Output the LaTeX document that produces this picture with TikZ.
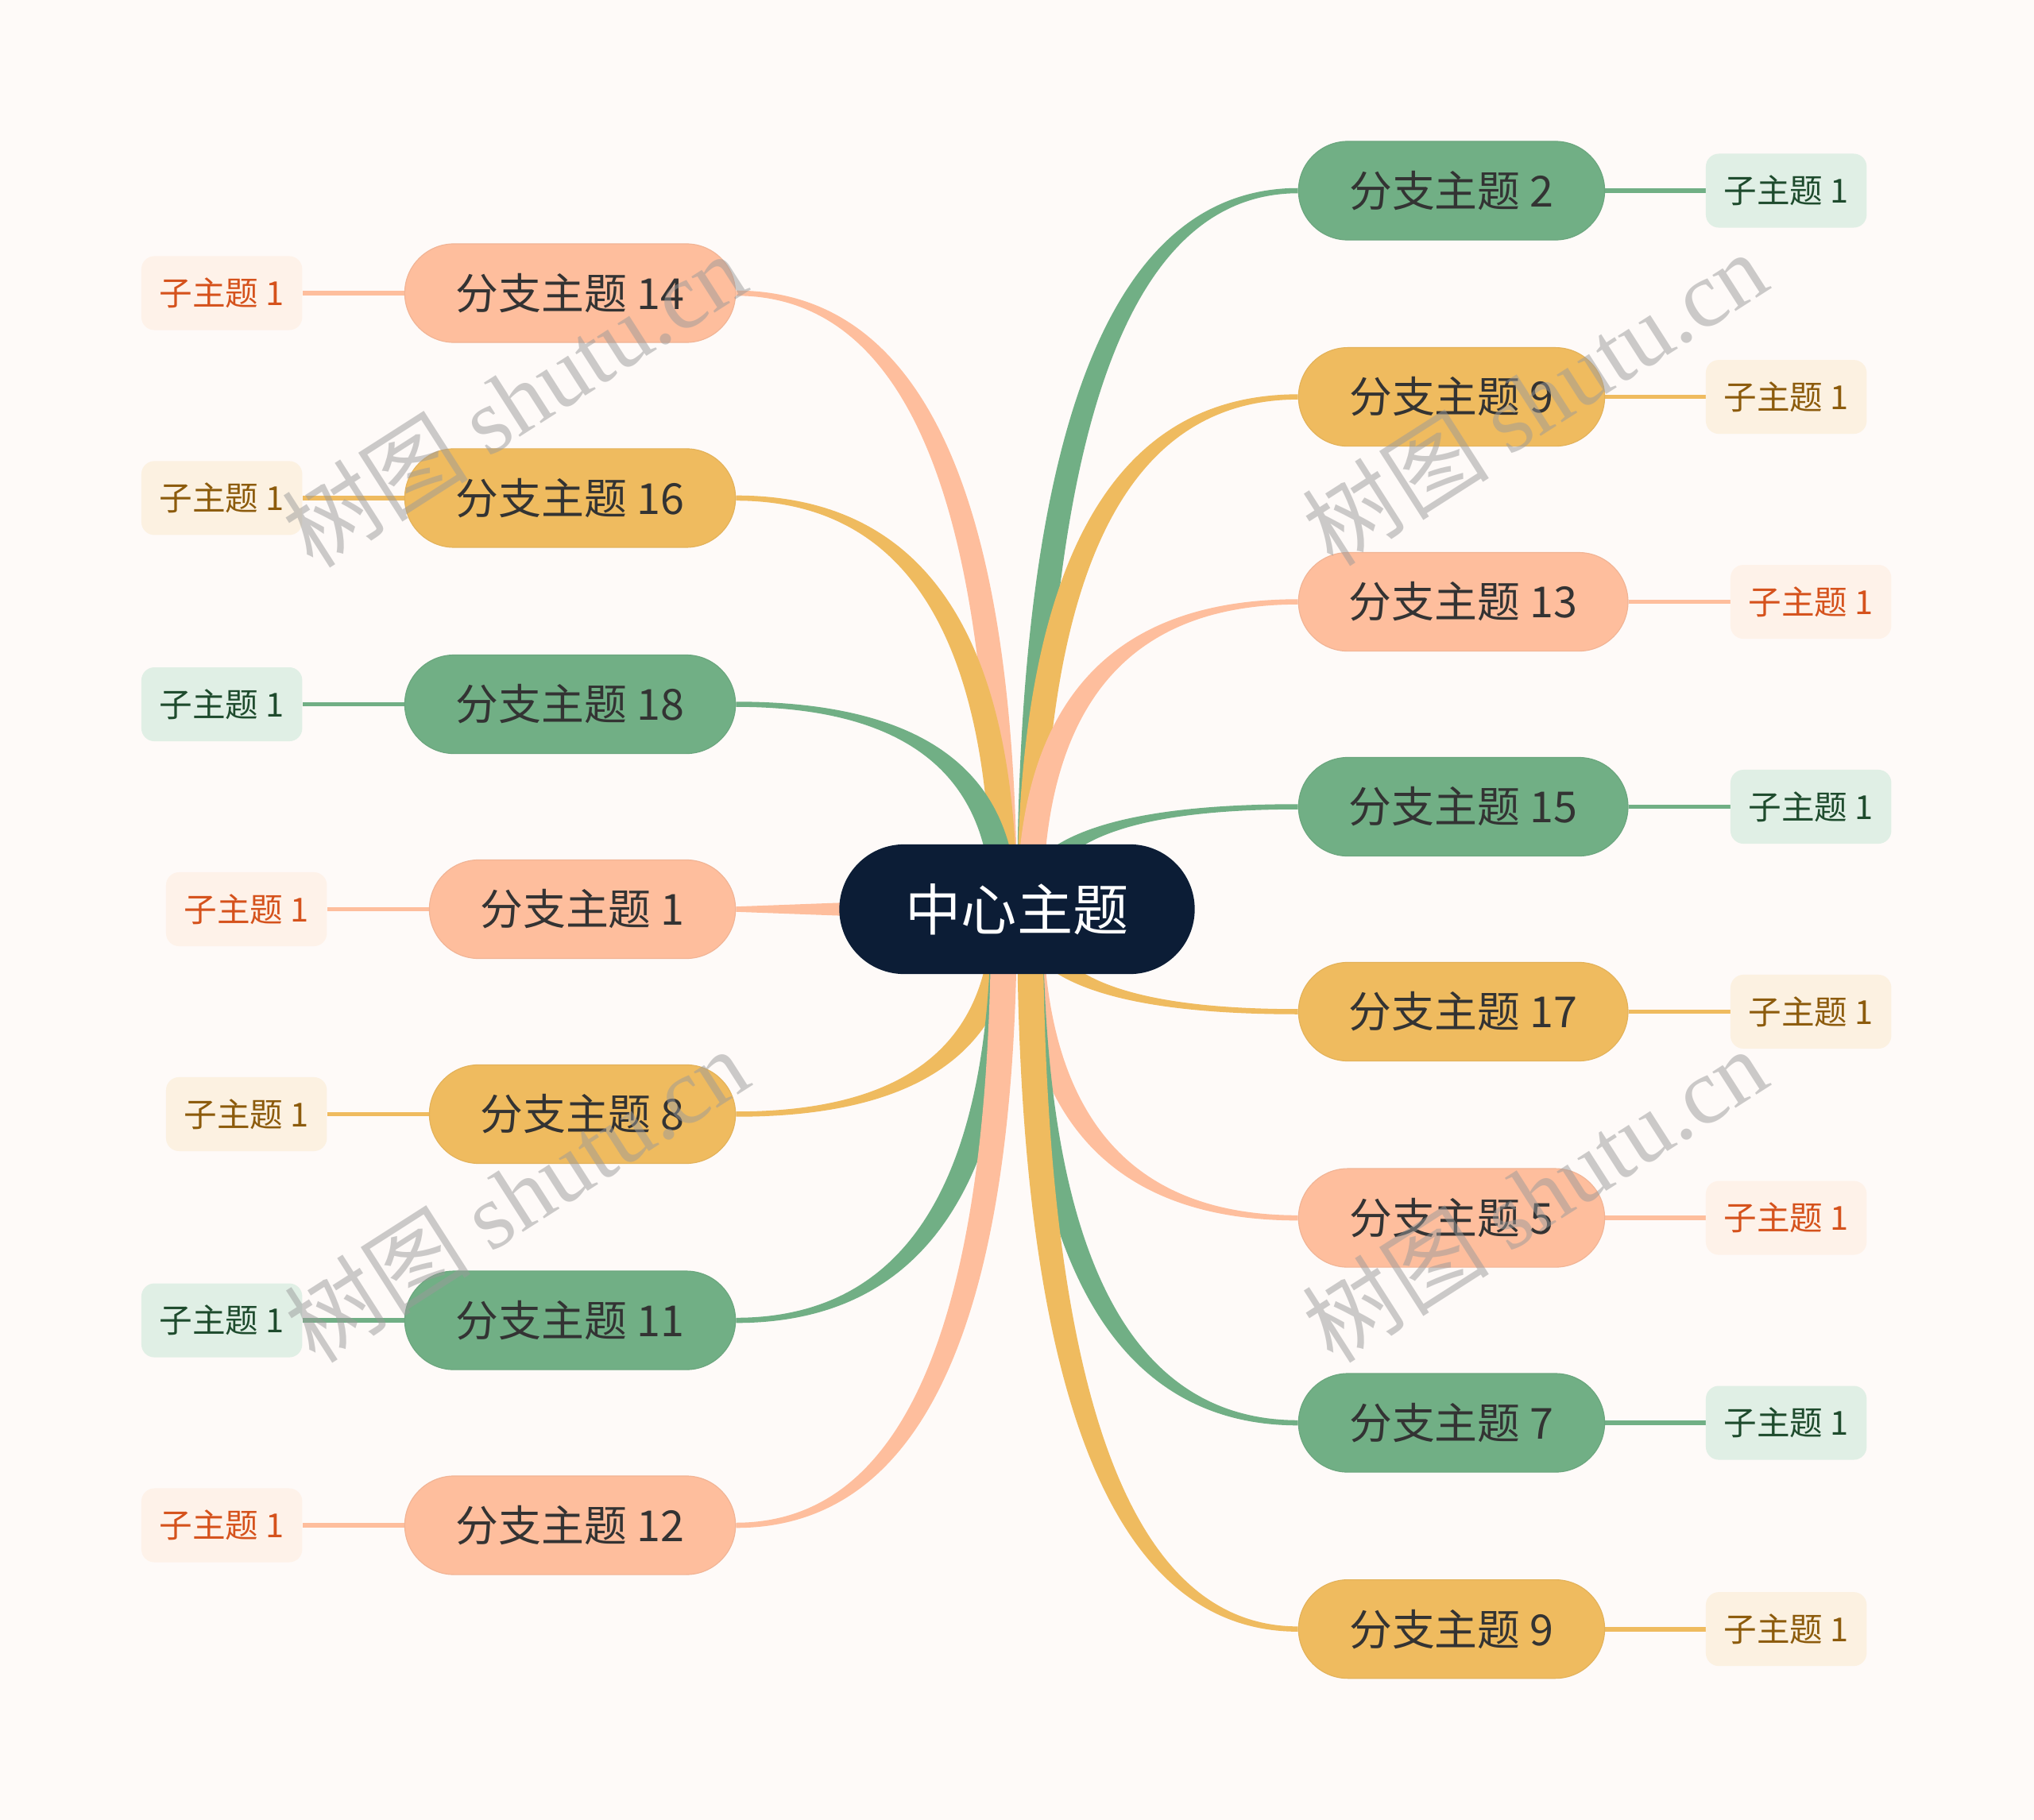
\documentclass[tikz,border=0pt]{standalone}
\usepackage{fontspec}
\setmainfont{Noto Sans CJK SC}
\newfontfamily\wmcjk{Noto Sans CJK SC}
\newfontfamily\wmlat{Liberation Serif}
\usetikzlibrary{calc}
\pgfdeclarelayer{background}
\pgfsetlayers{background,main}
\definecolor{bg}{HTML}{FEFAF8}
\definecolor{cpeach}{HTML}{FEBE9D}
\definecolor{cyellow}{HTML}{EFBB5F}
\definecolor{cgreen}{HTML}{71AF85}
\definecolor{cnavy}{HTML}{0C1D36}
\definecolor{spfill}{HTML}{FEF2E9}
\definecolor{sptext}{HTML}{D5521C}
\definecolor{syfill}{HTML}{FCF1E1}
\definecolor{sytext}{HTML}{8C5B0C}
\definecolor{sgfill}{HTML}{E0EFE5}
\definecolor{sgtext}{HTML}{1E4B2D}
\definecolor{btext}{HTML}{333333}
\definecolor{wmgray}{HTML}{9A9A9A}
\newcommand\taperlink[4]{%
  \coordinate (tS1) at (ctr.center);
  \coordinate (tS2) at ($(ctr.center)+(#2*20,0)$);
  \coordinate (tE1) at ($(#1)+(0,#3*2)$);
  \coordinate (tE2) at ($(#1)+(0,-#3*2)$);
  \coordinate (tC1) at (tS1 |- tE1);
  \coordinate (tC2) at (tS2 |- tE2);
  \fill[#4] (tS1) .. controls ($(tS1)!2/3!(tC1)$) and ($(tE1)!2/3!(tC1)$) .. (tE1)
    -- (tE2) .. controls ($(tE2)!2/3!(tC2)$) and ($(tS2)!2/3!(tC2)$) .. (tS2) -- cycle;}
\begin{document}
\begin{tikzpicture}[x=1pt,y=-1pt,
  branchbox/.style={rectangle, rounded corners=38pt, minimum height=76pt, inner sep=0pt,
    text=btext, font=\fontsize{33pt}{40pt}\selectfont},
  bpeach/.style={branchbox, fill=cpeach, draw=cpeach!95!black, line width=0.7pt},
  byellow/.style={branchbox, fill=cyellow, draw=cyellow!95!black, line width=0.7pt},
  bgreen/.style={branchbox, fill=cgreen, draw=cgreen!95!black, line width=0.7pt},
  subbox/.style={rectangle, rounded corners=10pt, minimum width=124pt, minimum height=57pt,
    inner sep=0pt, font=\fontsize{25.5pt}{30pt}\selectfont},
  speach/.style={subbox, fill=spfill, text=sptext},
  syellow/.style={subbox, fill=syfill, text=sytext},
  sgreen/.style={subbox, fill=sgfill, text=sgtext},
  sublink/.style={line width=3.5pt},
  wmark/.style={rotate=32.6, text=wmgray, opacity=0.5, inner sep=0pt,
    font=\fontsize{72pt}{80pt}\selectfont}
]
\useasboundingbox (0,0) rectangle (1568,1403);

% centre
\node[rectangle, rounded corners=50pt, minimum width=274pt, minimum height=100pt, inner sep=0pt,
  fill=cnavy, text=white, font=\fontsize{43pt}{50pt}\selectfont] (ctr) at (784,701) {中心主题};

% left branches
\node[bpeach, minimum width=255pt] (b14) at (439.5,226) {分支主题 14};
\node[byellow, minimum width=255pt] (b16) at (439.5,384) {分支主题 16};
\node[bgreen, minimum width=255pt] (b18) at (439.5,543) {分支主题 18};
\node[bpeach, minimum width=236pt] (b1) at (449,701) {分支主题 1};
\node[byellow, minimum width=236pt] (b8) at (449,859) {分支主题 8};
\node[bgreen, minimum width=255pt] (b11) at (439.5,1018) {分支主题 11};
\node[bpeach, minimum width=255pt] (b12) at (439.5,1176) {分支主题 12};

% right branches
\node[bgreen, minimum width=236pt] (b2) at (1119,147) {分支主题 2};
\node[byellow, minimum width=236pt] (b9) at (1119,306) {分支主题 9};
\node[bpeach, minimum width=254pt] (b13) at (1128,464) {分支主题 13};
\node[bgreen, minimum width=254pt] (b15) at (1128,622) {分支主题 15};
\node[byellow, minimum width=254pt] (b17) at (1128,780) {分支主题 17};
\node[bpeach, minimum width=236pt] (b5) at (1119,939) {分支主题 5};
\node[bgreen, minimum width=236pt] (b7) at (1119,1097) {分支主题 7};
\node[byellow, minimum width=236pt] (b9b) at (1119,1256) {分支主题 9};

% sub topics left
\node[speach] (s14) at (171,226) {子主题 1};
\node[syellow] (s16) at (171,384) {子主题 1};
\node[sgreen] (s18) at (171,543) {子主题 1};
\node[speach] (s1) at (190,701) {子主题 1};
\node[syellow] (s8) at (190,859) {子主题 1};
\node[sgreen] (s11) at (171,1018) {子主题 1};
\node[speach] (s12) at (171,1176) {子主题 1};

% sub topics right
\node[sgreen] (s2) at (1377,147) {子主题 1};
\node[syellow] (s9) at (1377,306) {子主题 1};
\node[speach] (s13) at (1396,464) {子主题 1};
\node[sgreen] (s15) at (1396,622) {子主题 1};
\node[syellow] (s17) at (1396,780) {子主题 1};
\node[speach] (s5) at (1377,939) {子主题 1};
\node[sgreen] (s7) at (1377,1097) {子主题 1};
\node[syellow] (s9b) at (1377,1256) {子主题 1};

\begin{pgfonlayer}{background}
\fill[bg] (0,0) rectangle (1568,1403);
% upper left
\taperlink{b14.east}{-1}{-1}{cpeach}
\taperlink{b16.east}{-1}{-1}{cyellow}
\taperlink{b18.east}{-1}{-1}{cgreen}
% upper right
\taperlink{b2.west}{1}{-1}{cgreen}
\taperlink{b9.west}{1}{-1}{cyellow}
\taperlink{b13.west}{1}{-1}{cpeach}
\taperlink{b15.west}{1}{-1}{cgreen}
% lower left
\taperlink{b8.east}{-1}{1}{cyellow}
\taperlink{b11.east}{-1}{1}{cgreen}
\taperlink{b12.east}{-1}{1}{cpeach}
% lower right
\taperlink{b17.west}{1}{1}{cyellow}
\taperlink{b5.west}{1}{1}{cpeach}
\taperlink{b7.west}{1}{1}{cgreen}
\taperlink{b9b.west}{1}{1}{cyellow}
% horizontal
\fill[cpeach] ($(ctr.center)+(0,-10)$) -- ($(b1.east)+(0,-2)$) -- ($(b1.east)+(0,2)$) -- ($(ctr.center)+(0,10)$) -- cycle;
% sub links
\draw[sublink, cpeach] (b14.west) -- (s14.east);
\draw[sublink, cyellow] (b16.west) -- (s16.east);
\draw[sublink, cgreen] (b18.west) -- (s18.east);
\draw[sublink, cpeach] (b1.west) -- (s1.east);
\draw[sublink, cyellow] (b8.west) -- (s8.east);
\draw[sublink, cgreen] (b11.west) -- (s11.east);
\draw[sublink, cpeach] (b12.west) -- (s12.east);
\draw[sublink, cgreen] (b2.east) -- (s2.west);
\draw[sublink, cyellow] (b9.east) -- (s9.west);
\draw[sublink, cpeach] (b13.east) -- (s13.west);
\draw[sublink, cgreen] (b15.east) -- (s15.west);
\draw[sublink, cyellow] (b17.east) -- (s17.west);
\draw[sublink, cpeach] (b5.east) -- (s5.west);
\draw[sublink, cgreen] (b7.east) -- (s7.west);
\draw[sublink, cyellow] (b9b.east) -- (s9b.west);
\end{pgfonlayer}

% watermarks
\node[wmark] (wm1) at (396,308) {{\wmcjk 树图} {\wmlat shutu.cn}};
\node[wmark] (wm2) at (1183,307) {{\wmcjk 树图} {\wmlat shutu.cn}};
\node[wmark] (wm3) at (398,921) {{\wmcjk 树图} {\wmlat shutu.cn}};
\node[wmark] (wm4) at (1183,921) {{\wmcjk 树图} {\wmlat shutu.cn}};
\end{tikzpicture}
\end{document}
